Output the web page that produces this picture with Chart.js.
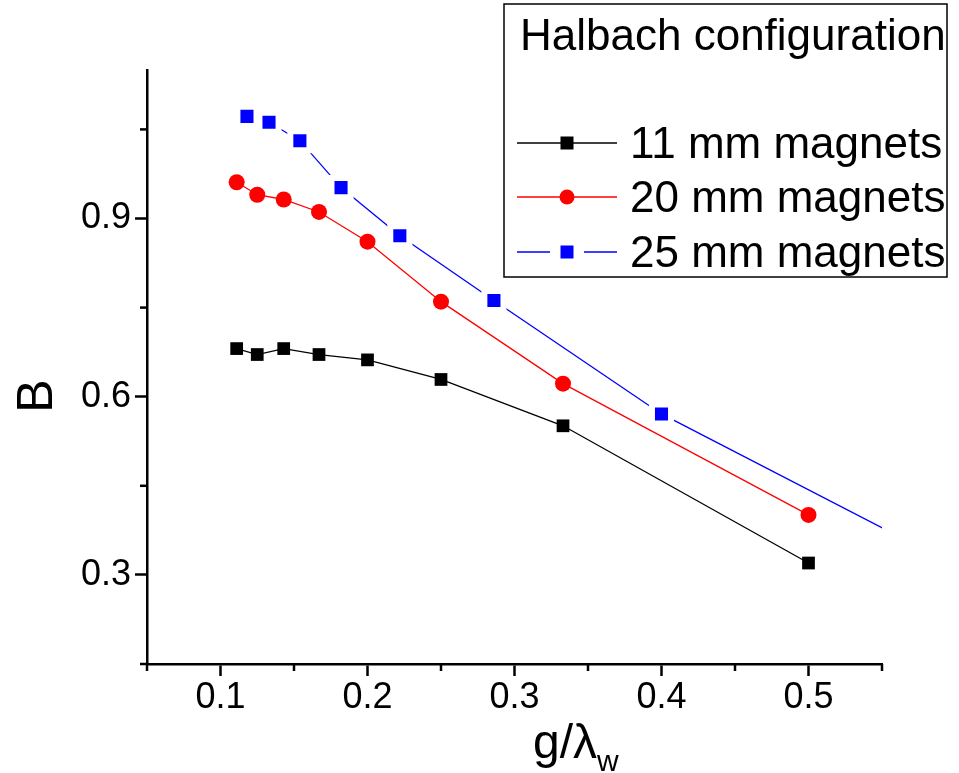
<!DOCTYPE html>
<html lang="en">
  <head>
    <meta charset="UTF-8" />
    <title>Halbach configuration</title>
    <script src="https://cdn.jsdelivr.net/npm/chart.js@4.4.1/dist/chart.umd.min.js"></script>
    <style>
      html, body { margin: 0; padding: 0; background: #fff; }
      #wrap { width: 959px; height: 773px; }
    </style>
  </head>
  <body>
    <div id="wrap"><canvas id="chart" width="959" height="773"></canvas></div>

    <script>
      //data
      const seriesNames = ['11 mm magnets', '20 mm magnets', '25 mm magnets'];
      const x11 = [0.111, 0.125, 0.143, 0.167, 0.2, 0.25, 0.333, 0.5];
      const y11 = [0.681, 0.671, 0.681, 0.671, 0.662, 0.629, 0.551, 0.32];
      const x20 = [0.111, 0.125, 0.143, 0.167, 0.2, 0.25, 0.333, 0.5];
      const y20 = [0.961, 0.94, 0.932, 0.911, 0.861, 0.76, 0.622, 0.401];
      const x25 = [0.118, 0.133, 0.154, 0.182, 0.222, 0.286, 0.4, 0.667];
      const y25 = [1.072, 1.062, 1.031, 0.952, 0.871, 0.762, 0.571, 0.23];
      const xMajorTicks = [0.1, 0.2, 0.3, 0.4, 0.5];
      const xMinorTicks = [0.05, 0.15, 0.25, 0.35, 0.45, 0.55];
      const yMajorTicks = [0.3, 0.6, 0.9];
      const yMinorTicks = [0.15, 0.45, 0.75, 1.05];
      const legendTitle = 'Halbach configuration';
      const xTitle = 'g/\u03bb';
      const xTitleSub = 'w';
      const yTitle = 'B';

      const toPoints = (xs, ys) => xs.map((x, i) => ({ x: x, y: ys[i] }));

      const FONT = "'Liberation Sans', Arial, sans-serif";
      Chart.defaults.font.family = FONT;
      Chart.defaults.color = '#000';

      const styles = [
        { color: '#000000', pointStyle: 'rect', radius: 9, border: '#000000', borderW: 0 },
        { color: '#ff0000', pointStyle: 'circle', radius: 8, border: '#ff0000', borderW: 0 },
        { color: '#0000ff', pointStyle: 'rect', radius: 13.5, border: '#ffffff', borderW: 6 }
      ];

      const data = {
        datasets: [
          { label: seriesNames[0], data: toPoints(x11, y11) },
          { label: seriesNames[1], data: toPoints(x20, y20) },
          { label: seriesNames[2], data: toPoints(x25, y25) }
        ].map((d, i) => Object.assign(d, {
          borderColor: styles[i].color,
          backgroundColor: styles[i].color,
          borderWidth: 1.3,
          pointStyle: styles[i].pointStyle,
          pointRadius: styles[i].radius,
          pointBackgroundColor: styles[i].color,
          pointBorderColor: styles[i].border,
          pointBorderWidth: styles[i].borderW,
          tension: 0
        }))
      };

      //minor ticks, axis titles and legend box
      const decorations = {
        id: 'decorations',
        afterDraw(chart) {
          const ctx = chart.ctx;
          const xs = chart.scales.x;
          const ys = chart.scales.y;
          const area = chart.chartArea;
          ctx.save();
          ctx.strokeStyle = '#000';
          ctx.lineWidth = 2.5;
          xMinorTicks.forEach((v) => {
            const px = xs.getPixelForValue(v);
            ctx.beginPath();
            ctx.moveTo(px, area.bottom);
            ctx.lineTo(px, area.bottom + 7);
            ctx.stroke();
          });
          yMinorTicks.forEach((v) => {
            const py = ys.getPixelForValue(v);
            ctx.beginPath();
            ctx.moveTo(area.left, py);
            ctx.lineTo(area.left - 7, py);
            ctx.stroke();
          });

          // axis titles
          ctx.fillStyle = '#000';
          ctx.textBaseline = 'alphabetic';
          ctx.font = '48px ' + FONT;
          ctx.textAlign = 'left';
          ctx.fillText(xTitle, 533, 758);
          const w = ctx.measureText(xTitle).width;
          ctx.font = '30px ' + FONT;
          ctx.fillText(xTitleSub, 533 + w, 771);

          ctx.save();
          ctx.translate(52, 396);
          ctx.rotate(-Math.PI / 2);
          ctx.font = '50px ' + FONT;
          ctx.textAlign = 'center';
          ctx.fillText(yTitle, 0, 0);
          ctx.restore();

          // legend box
          ctx.lineWidth = 1.5;
          ctx.strokeRect(504, 4, 443, 273);
          ctx.font = '44px ' + FONT;
          ctx.textAlign = 'left';
          ctx.fillText(legendTitle, 520, 50);
          const rows = [143, 197, 252];
          chart.data.datasets.forEach((ds, i) => {
            const y = rows[i];
            const s = styles[i];
            ctx.strokeStyle = s.color;
            ctx.lineWidth = 1.3;
            ctx.beginPath();
            if (i === 2) {
              ctx.moveTo(517, y); ctx.lineTo(550, y);
              ctx.moveTo(584, y); ctx.lineTo(617, y);
            } else {
              ctx.moveTo(517, y); ctx.lineTo(617, y);
            }
            ctx.stroke();
            ctx.fillStyle = s.color;
            if (s.pointStyle === 'circle') {
              ctx.beginPath();
              ctx.arc(567, y, 7.5, 0, Math.PI * 2);
              ctx.fill();
            } else {
              ctx.fillRect(560.5, y - 6.5, 13, 13);
            }
            ctx.fillStyle = '#000';
            ctx.fillText(ds.label, 630, y + 15);
          });
          ctx.restore();
        }
      };

      //config
      const config = {
        type: 'line',
        data: data,
        options: {
          responsive: false,
          animation: false,
          layout: { padding: { top: 70, right: 77, left: 0, bottom: 0 } },
          scales: {
            x: {
              type: 'linear',
              min: 0.05,
              max: 0.55,
              afterBuildTicks: (scale) => { scale.ticks = xMajorTicks.map((v) => ({ value: v })); },
              afterFit: (scale) => { scale.height = 109; },
              border: { display: true, color: '#000', width: 2.5 },
              grid: { drawOnChartArea: false, drawTicks: true, tickLength: 12, tickWidth: 2.5, tickColor: '#000' },
              ticks: {
                font: { size: 36 },
                color: '#000',
                padding: 0,
                maxRotation: 0,
                callback: (v) => v.toFixed(1)
              }
            },
            y: {
              type: 'linear',
              min: 0.15,
              max: 1.15,
              afterBuildTicks: (scale) => { scale.ticks = yMajorTicks.map((v) => ({ value: v })); },
              afterFit: (scale) => { scale.width = 147; },
              border: { display: true, color: '#000', width: 2.5 },
              grid: { drawOnChartArea: false, drawTicks: true, tickLength: 12, tickWidth: 2.5, tickColor: '#000' },
              ticks: {
                font: { size: 36 },
                color: '#000',
                padding: 4,
                callback: (v) => v.toFixed(1)
              }
            }
          },
          plugins: {
            legend: { display: false },
            tooltip: { enabled: false }
          }
        },
        plugins: [decorations]
      };

      //init
      const ctx = document.getElementById('chart');
      const chart = new Chart(ctx, config);
    </script>
  </body>
</html>
